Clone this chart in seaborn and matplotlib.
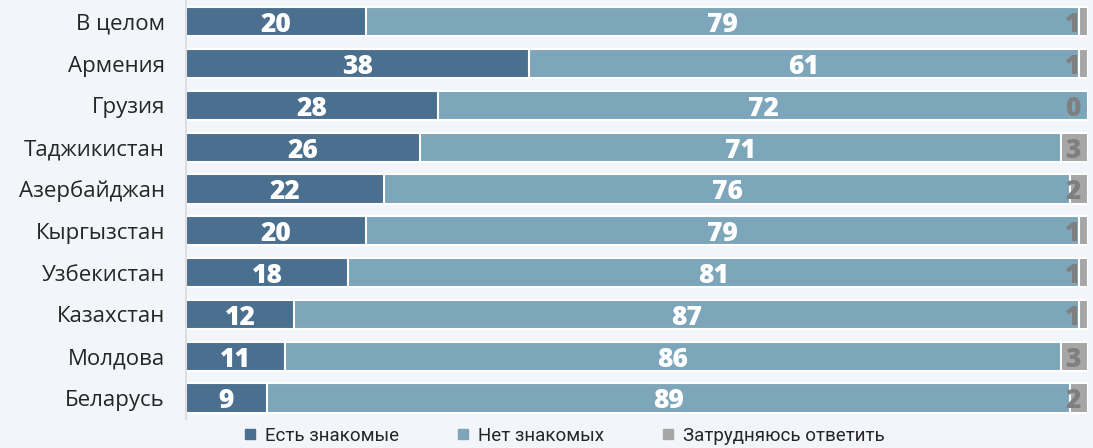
import numpy as np
import pandas as pd
import matplotlib
matplotlib.use("Agg")
import matplotlib.pyplot as plt
import seaborn as sns

# -------------------------------
# Data
# -------------------------------
countries = ["В целом", "Армения", "Грузия", "Таджикистан", "Азербайджан",
             "Кыргызстан", "Узбекистан", "Казахстан", "Молдова", "Беларусь"]
have_friends = [20, 38, 28, 26, 22, 20, 18, 12, 11, 9]
no_friends = [79, 61, 72, 71, 76, 79, 81, 87, 86, 89]
hard_to_say = [1, 1, 0, 3, 2, 1, 1, 1, 3, 2]

series_names = ["Есть знакомые", "Нет знакомых", "Затрудняюсь ответить"]
colors = ["#4a6f8f", "#7ea6bb", "#a6a6a6"]
bg = "#f2f5f9"

df = pd.DataFrame({
    "country": countries,
    "s1": have_friends,
    "s2": no_friends,
    "s3": hard_to_say,
})
df["c1"] = df["s1"]
df["c2"] = df["s1"] + df["s2"]
df["c3"] = df["c2"] + df["s3"]

# -------------------------------
# Figure
# -------------------------------
sns.set_style("white")
plt.rcParams["font.family"] = ["Open Sans", "DejaVu Sans"]

fig = plt.figure(figsize=(10.93, 4.48), dpi=100, facecolor=bg)
ax = fig.add_axes([0.170, 0.065, 0.8255, 0.933])
ax.set_facecolor(bg)

bar_w = 0.70
# cumulative bars drawn back to front
for col, color in zip(["c3", "c2", "c1"], colors[::-1]):
    sns.barplot(data=df, x=col, y="country", order=countries, color=color,
                width=bar_w, edgecolor="white", linewidth=1.5, ax=ax,
                saturation=1)

# value labels
lbl = dict(va="center", fontsize=19, fontweight="heavy")
for i, row in df.iterrows():
    ax.text(row["s1"] / 2, i + 0.08, str(row["s1"]), ha="center",
            color="white", **lbl)
    ax.text(row["c1"] + row["s2"] / 2, i + 0.08, str(row["s2"]), ha="center",
            color="white", **lbl)
    ax.text(99.2, i + 0.08, str(row["s3"]), ha="right",
            color="#7f7f7f", **lbl)

ax.set_xlim(0, 100)
ax.set_ylim(len(countries) - 0.5, -0.5)
ax.set_xlabel("")
ax.set_ylabel("")
ax.set_xticks([])
ax.tick_params(axis="y", length=0, pad=15, labelsize=16, labelcolor="#262626")

for side in ["top", "right", "bottom"]:
    ax.spines[side].set_visible(False)
ax.spines["left"].set_color("#d9d9d9")
ax.spines["left"].set_linewidth(1.2)

# legend
handles = [plt.Line2D([], [], marker="s", linestyle="", markersize=7,
                      color=c) for c in colors]
fig.legend(handles, series_names, loc="lower center",
           bbox_to_anchor=(0.5105, -0.03), ncol=3, frameon=False,
           handletextpad=-0.2, columnspacing=2.4,
           prop={"family": ["Roboto", "DejaVu Sans"], "size": 13.5})

fig.savefig("out.png", dpi=100, facecolor=bg)
